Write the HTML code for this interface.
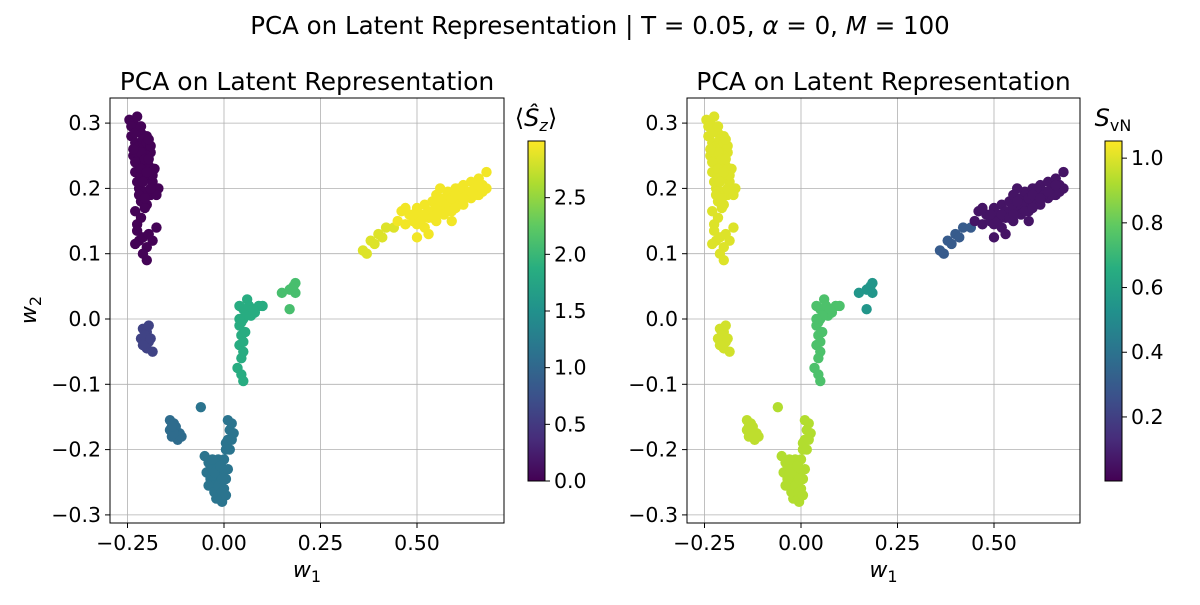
<!DOCTYPE html>
<html><head><meta charset="utf-8"><style>
body{margin:0;background:#fff;font-family:"Liberation Sans","DejaVu Sans",sans-serif}
svg text{font-family:"DejaVu Sans","Liberation Sans",sans-serif;fill:#000}
</style></head><body>
<svg id="chart" width="1200" height="600" viewBox="0 0 1200 600" xmlns="http://www.w3.org/2000/svg">
<defs>
<linearGradient id="vir" x1="0" y1="1" x2="0" y2="0">
<stop offset="0" stop-color="#440154"/><stop offset="0.125" stop-color="#472d7b"/><stop offset="0.25" stop-color="#3b528b"/><stop offset="0.375" stop-color="#2c728e"/><stop offset="0.5" stop-color="#21918c"/><stop offset="0.625" stop-color="#28ae80"/><stop offset="0.75" stop-color="#5ec962"/><stop offset="0.875" stop-color="#addc30"/><stop offset="1" stop-color="#fde725"/>
</linearGradient>
</defs>
<text x="600" y="34" font-size="24.5" text-anchor="middle">PCA on Latent Representation | T = 0.05, <tspan font-style="italic">α</tspan> = 0, <tspan font-style="italic">M</tspan> = 100</text>
</svg>
<script>
// cluster data (w1, w2)
const c1x=[-0.245,-0.235,-0.225,-0.215,-0.2,-0.24,-0.23,-0.22,-0.205,-0.19,-0.235,-0.22,-0.21,-0.195,-0.18,-0.23,-0.215,-0.2,-0.185,-0.17,-0.22,-0.205,-0.19,-0.175,-0.2,-0.215,-0.23,-0.2,-0.21,-0.225,-0.23,-0.225,-0.22,-0.23,-0.21,-0.2,-0.195,-0.21,-0.2,-0.185,-0.175,-0.205,-0.24,-0.23,-0.21,-0.2,-0.19,-0.225,-0.215,-0.205,-0.195,-0.185,-0.225,-0.215,-0.2,-0.19,-0.21,-0.22,-0.235,-0.215,-0.195,-0.205,-0.225,-0.215];
const c1y=[0.305,0.3,0.29,0.285,0.28,0.28,0.27,0.265,0.26,0.255,0.25,0.245,0.24,0.235,0.23,0.225,0.22,0.215,0.21,0.2,0.2,0.195,0.19,0.19,0.175,0.18,0.24,0.25,0.27,0.31,0.165,0.145,0.12,0.115,0.125,0.11,0.13,0.1,0.09,0.12,0.14,0.17,0.295,0.285,0.275,0.27,0.265,0.255,0.255,0.245,0.245,0.22,0.21,0.23,0.225,0.2,0.21,0.19,0.26,0.295,0.275,0.185,0.135,0.155];
const c2x=[-0.21,-0.2,-0.215,-0.195,-0.2,-0.185,-0.205,-0.19,-0.21,-0.195];
const c2y=[-0.015,-0.02,-0.03,-0.035,-0.045,-0.05,-0.025,-0.03,-0.04,-0.01];
const c3x=[-0.14,-0.13,-0.14,-0.125,-0.115,-0.135,-0.12,-0.11,-0.125,-0.13,-0.135];
const c3y=[-0.155,-0.16,-0.17,-0.17,-0.175,-0.18,-0.185,-0.18,-0.165,-0.175,-0.165];
const c4x=[-0.06,-0.05,-0.04,-0.045,-0.03,-0.02,-0.035,-0.02,-0.01,0,-0.025,-0.01,0.005,-0.015,0,-0.01,-0.005,0.01,0,0.005,0.01,0.015,0.02,0.01,0.025,0.005,-0.015,-0.04,-0.02,-0.03,-0.025,-0.015,-0.005,-0.035,-0.03,-0.005,0.005,-0.025,-0.01,0.015,0.02];
const c4y=[-0.135,-0.21,-0.22,-0.235,-0.23,-0.225,-0.245,-0.24,-0.235,-0.23,-0.255,-0.25,-0.245,-0.265,-0.26,-0.275,-0.28,-0.23,-0.215,-0.2,-0.185,-0.17,-0.16,-0.155,-0.175,-0.19,-0.215,-0.255,-0.275,-0.24,-0.265,-0.255,-0.265,-0.225,-0.215,-0.245,-0.27,-0.235,-0.225,-0.2,-0.185];
const c5x=[0.04,0.05,0.06,0.07,0.08,0.09,0.06,0.05,0.04,0.045,0.055,0.04,0.05,0.045,0.035,0.045,0.05,0.065,0.1,0.075,0.055,0.045,0.05,0.04];
const c5y=[0.02,0.015,0.01,0.005,0.01,0.02,0.03,0,-0.01,-0.025,-0.02,-0.04,-0.05,-0.06,-0.075,-0.085,-0.095,0.02,0.02,0.015,0.005,-0.005,-0.035,0.0];
const c6x=[0.15,0.17,0.18,0.185,0.17,0.185];
const c6y=[0.04,0.045,0.05,0.055,0.015,0.04];
const c7x=[0.36,0.37,0.38,0.39,0.4,0.41,0.42,0.44];
const c7y=[0.105,0.1,0.12,0.115,0.13,0.125,0.14,0.14];
const c8x=[0.45,0.47,0.48,0.49,0.5,0.5,0.51,0.52,0.52,0.53,0.54,0.54,0.55,0.55,0.56,0.57,0.57,0.58,0.58,0.59,0.6,0.6,0.61,0.62,0.62,0.63,0.64,0.64,0.65,0.66,0.66,0.67,0.68,0.68,0.53,0.56,0.46,0.5,0.59,0.47,0.51,0.53,0.55,0.57,0.59,0.61,0.63,0.65,0.67,0.49,0.52,0.54,0.56,0.58,0.6,0.62,0.64,0.66,0.55,0.6];
const c8y=[0.15,0.145,0.16,0.15,0.17,0.145,0.16,0.175,0.14,0.155,0.165,0.18,0.15,0.19,0.17,0.16,0.185,0.175,0.195,0.165,0.18,0.2,0.19,0.175,0.205,0.195,0.185,0.21,0.2,0.19,0.215,0.205,0.2,0.225,0.13,0.2,0.165,0.125,0.15,0.17,0.15,0.165,0.17,0.175,0.185,0.2,0.19,0.19,0.195,0.16,0.16,0.155,0.18,0.165,0.19,0.185,0.195,0.205,0.16,0.17];
const clusterXs=[c1x,c2x,c3x,c4x,c5x,c6x,c7x,c8x];
const clusterYs=[c1y,c2y,c3y,c4y,c5y,c6y,c7y,c8y];
const szVals=[0.02,0.6,1.05,1.15,1.85,2.1,2.85,2.95];
const svnVals=[1.0,0.98,0.95,0.93,0.75,0.55,0.3,0.06];
const xTicks=[-0.25,0,0.25,0.5];
const xTickLabels=["−0.25","0.00","0.25","0.50"];
const yTicks=[-0.3,-0.2,-0.1,0,0.1,0.2,0.3];
const yTickLabels=["−0.3","−0.2","−0.1","0.0","0.1","0.2","0.3"];
const szTicks=[0,0.5,1,1.5,2,2.5];
const szTickLabels=["0.0","0.5","1.0","1.5","2.0","2.5"];
const svnTicks=[0.2,0.4,0.6,0.8,1.0];
const svnTickLabels=["0.2","0.4","0.6","0.8","1.0"];

const NS="http://www.w3.org/2000/svg";
const svg=document.getElementById('chart');
function mk(tag,attrs,parent){const e=document.createElementNS(NS,tag);for(const k in attrs)e.setAttribute(k,attrs[k]);(parent||svg).appendChild(e);return e;}
const stops=[[68,1,84],[71,45,123],[59,82,139],[44,114,142],[33,145,140],[40,174,128],[94,201,98],[173,220,48],[253,231,37]];
function viridis(t){t=Math.max(0,Math.min(1,t));const p=t*8,i=Math.min(7,Math.floor(p)),f=p-i;const a=stops[i],b=stops[i+1];return `rgb(${a.map((v,k)=>Math.round(v+(b[k]-v)*f)).join(',')})`;}

function panel(x0,x1,zero,vals,vmin,vmax,cb,cbTicks,cbLabels,cbTitle,pname){
  const top=98,bot=523,sc=386;
  const X=v=>zero+v*sc;const Y=v=>319-v*653;
  const g=mk('g',{});
  
  
  xTicks.forEach((t,i)=>{const l=mk('line',{x1:X(t),x2:X(t),y1:top,y2:bot,stroke:'#b0b0b0','stroke-width':0.8},g);
    
    mk('line',{x1:X(t),x2:X(t),y1:bot,y2:bot+5,stroke:'#000'},g);
    const tx=mk('text',{x:X(t),y:bot+27,'font-size':20.5,'text-anchor':'middle'},g);tx.textContent=xTickLabels[i];
    });
  yTicks.forEach((t,i)=>{const l=mk('line',{x1:x0,x2:x1,y1:Y(t),y2:Y(t),stroke:'#b0b0b0','stroke-width':0.8},g);
    
    mk('line',{x1:x0-5,x2:x0,y1:Y(t),y2:Y(t),stroke:'#000'},g);
    const tx=mk('text',{x:x0-9,y:Y(t)+7,'font-size':20.5,'text-anchor':'end'},g);tx.textContent=yTickLabels[i];
    });
  clusterXs.forEach((xs,c)=>{xs.forEach((xv,j)=>{
    const p=mk('circle',{cx:X(xv),cy:Y(clusterYs[c][j]),r:5.2,fill:viridis((vals[c]-vmin)/(vmax-vmin))},g);
    
    });});
  const fr=mk('rect',{x:x0,y:top,width:x1-x0,height:bot-top,fill:'none',stroke:'#000','stroke-width':1},g);
  
  const tt=mk('text',{x:(x0+x1)/2,y:90,'font-size':25,'text-anchor':'middle'},g);tt.textContent='PCA on Latent Representation';
  
  const xl=mk('text',{x:(x0+x1)/2,y:577,'font-size':22,'text-anchor':'middle','font-style':'italic'},g);
  xl.innerHTML='w<tspan font-size="16" dy="5" font-style="normal">1</tspan>';
  
  const cbT=141,cbB=481;const CY=v=>cbB-(v-vmin)/(vmax-vmin)*(cbB-cbT);
  const r=mk('rect',{x:cb,y:cbT,width:17,height:cbB-cbT,fill:'url(#vir)',stroke:'#000','stroke-width':1},g);
  
  cbTicks.forEach((t,i)=>{mk('line',{x1:cb+17,x2:cb+22,y1:CY(t),y2:CY(t),stroke:'#000'},g);
    const tx=mk('text',{x:cb+26,y:CY(t)+7,'font-size':20.5},g);tx.textContent=cbLabels[i];
    });
  const ct=mk('text',{x:cb+8,y:126,'font-size':24,'text-anchor':'middle'},g);ct.innerHTML=cbTitle;
  
}
panel(110,504,224,szVals,0,3.0,528,szTicks,szTickLabels,'⟨<tspan font-style="italic">Ŝ</tspan><tspan font-style="italic" font-size="16" dy="5">z</tspan><tspan dy="-5">⟩</tspan>','left-panel');
panel(687,1080,801,svnVals,0.002,1.053,1105,svnTicks,svnTickLabels,'<tspan font-style="italic">S</tspan><tspan font-size="16" dy="5">vN</tspan>','right-panel');
const yl=mk('text',{x:0,y:0,'font-size':22,'text-anchor':'middle','font-style':'italic',transform:'translate(36,310) rotate(-90)'});
yl.innerHTML='w<tspan font-size="16" dy="5" font-style="normal">2</tspan>';


</script>
</body></html>
